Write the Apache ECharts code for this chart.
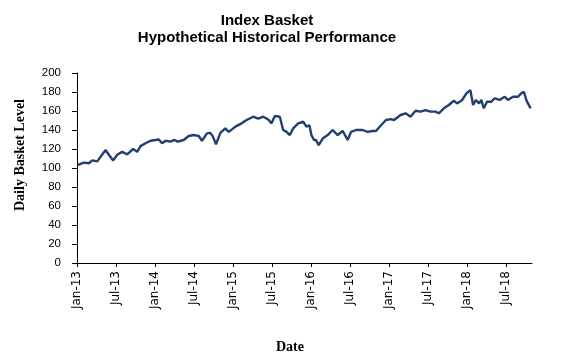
<!DOCTYPE html>
<html>
<head>
<meta charset="utf-8">
<script src="https://cdn.jsdelivr.net/npm/echarts@6/dist/echarts.min.js"></script>
<style>html,body{margin:0;padding:0;background:#fff}#c{width:563px;height:363px}</style>
</head>
<body>
<div id="c"></div>
<script>
// Months elapsed since 1 Jan 2013 for each reading
const monthOffsets = [0.05,1.07,1.84,2.35,3.12,3.64,4.4,4.9,5.57,6.19,6.95,7.72,8.64,9.26,9.78,10.54,11.31,
  12.08,12.59,13.09,13.61,14.38,15.0,15.5,16.42,17.19,17.96,18.73,19.23,20.0,20.52,20.92,21.38,22.06,22.82,23.33,23.84,
  24.36,24.56,25.33,26.09,27.12,27.89,28.66,29.42,29.93,30.44,31.2,31.72,32.24,32.74,33.26,34.03,34.8,35.3,35.76,
  36.06,36.27,36.47,36.78,37.18,37.8,38.57,39.34,40.1,40.87,41.64,42.16,42.93,43.94,44.71,45.48,46.0,46.77,47.54,
  48.3,48.77,49.78,50.55,51.31,52.08,52.85,53.61,54.38,55.15,55.67,56.44,57.21,57.97,58.48,59.25,59.91,
  60.52,60.94,61.35,61.86,62.21,62.58,63.08,63.75,64.27,65.03,65.8,66.31,67.08,67.84,68.35,68.76,69.12,69.38,69.79];
const basketLevel = [103,105.6,105,108,107,112,119,114,108,114,117,114.4,120,117,123,126,128.7,
  129.5,130,126,128.7,127.7,129.5,127.7,129.5,133.7,134.7,133.7,128.7,136.5,137,133,125,137,141.7,138,140.7,
  143.5,141.8,147,150.5,154,152,154,151,147,154.7,154,140,138,134.7,141.8,147,148.7,143.5,145,
  134.7,133,129.5,129.5,124,131,134.7,140,134.7,139,129.5,138,140,140,138,139,139,145,150.5,
  151.5,150.5,155.8,157.6,154,160.3,159.3,161,159.3,159.3,157.6,162.8,166.3,170.8,168,171.6,178.6,
  182,166.3,171.6,168,171.6,162.8,169.8,169.8,173.4,171.6,175,171.6,175,175,178.6,180.3,171.6,168,162.8];
const monthNames = ['Jan','Jul'];
const yTicks = [0,20,40,60,80,100,120,140,160,180,200];

const data = monthOffsets.map((m, i) => [m, basketLevel[i]]);
const chart = echarts.init(document.getElementById('c'), null, {renderer: 'canvas'});
const serifBold = {fontFamily: 'Liberation Serif, Times New Roman', fontWeight: 'bold', fontSize: 14, fill: '#000'};
chart.setOption({
  animation: false,
  backgroundColor: '#fff',
  title: {
    text: 'Index Basket\nHypothetical Historical Performance',
    left: 262, top: 7, textAlign: 'center',
    textStyle: {fontFamily: 'Liberation Sans, Arial', fontWeight: 'bold', fontSize: 15, color: '#000', lineHeight: 17}
  },
  graphic: [
    {type: 'text', x: 20, y: 155, rotation: Math.PI / 2,
      style: Object.assign({text: 'Daily Basket Level', align: 'center', verticalAlign: 'middle'}, serifBold)},
    {type: 'text', x: 290, y: 347,
      style: Object.assign({text: 'Date', align: 'center', verticalAlign: 'middle'}, serifBold)}
  ],
  grid: {left: 77, right: 31, top: 73, bottom: 100, containLabel: false},
  xAxis: {
    type: 'value', min: 0, max: 70, interval: 6,
    axisLine: {show: true, lineStyle: {color: '#000', width: 1}},
    axisTick: {show: true, length: 4, lineStyle: {color: '#000'}},
    splitLine: {show: false},
    axisLabel: {
      rotate: 90, margin: 8, fontFamily: 'DejaVu Sans, Tahoma', fontSize: 12, color: '#000',
      showMaxLabel: false,
      formatter: v => {
        const yr = 13 + Math.floor(v / 12);
        return monthNames[Math.round((v % 12) / 6)] + '-' + yr;
      }
    }
  },
  yAxis: {
    type: 'value', min: 0, max: 200, interval: 20,
    axisLine: {show: true, lineStyle: {color: '#000', width: 1}},
    axisTick: {show: true, length: 5, lineStyle: {color: '#000'}},
    splitLine: {show: false},
    axisLabel: {margin: 16, fontFamily: 'Liberation Sans, Arial', fontSize: 11.5, color: '#000',
      formatter: v => yTicks.includes(v) ? String(v) : ''}
  },
  series: [{
    type: 'line', data: data, showSymbol: false, smooth: false,
    lineStyle: {color: '#223F70', width: 2.4},
    z: 3
  }]
});
</script>
</body>
</html>
